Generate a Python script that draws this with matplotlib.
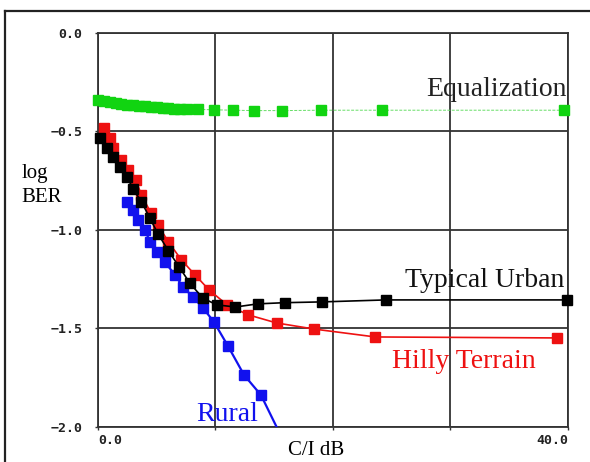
import matplotlib
matplotlib.use("Agg")
import matplotlib.pyplot as plt
from matplotlib.lines import Line2D

# C/I in dB and log BER
eq_x = [0.0, 0.5, 1.0, 1.5, 2.0, 2.5, 3.0, 3.5, 4.0, 4.5, 5.0, 5.5, 6.0, 6.5, 7.0, 7.6,
        8.5, 9.9, 11.5, 13.3, 15.7, 19.0, 24.2, 39.7]
eq_y = [-0.340, -0.346, -0.351, -0.356, -0.360, -0.364, -0.367, -0.370, -0.373, -0.376,
        -0.378, -0.380, -0.382, -0.384, -0.385, -0.386,
        -0.388, -0.390, -0.392, -0.394, -0.394, -0.392, -0.392, -0.392]

hilly_x = [0.5, 1.0, 1.3, 2.0, 2.55, 3.2, 3.7, 4.5, 5.1, 6.0, 7.1, 8.26, 9.45, 11.0,
           12.8, 15.2, 18.4, 23.6, 39.1]
hilly_y = [-0.481, -0.532, -0.583, -0.644, -0.695, -0.745, -0.822, -0.913, -0.974,
           -1.061, -1.152, -1.228, -1.304, -1.381, -1.431, -1.472, -1.503, -1.543, -1.548]

urban_x = [0.17, 0.77, 1.28, 1.87, 2.47, 2.98, 3.7, 4.4, 5.1, 6.0, 6.9, 7.8, 8.9, 10.1,
           11.7, 13.6, 15.9, 19.1, 24.5, 39.9]
urban_y = [-0.532, -0.583, -0.629, -0.680, -0.731, -0.791, -0.857, -0.938, -1.019, -1.106,
           -1.187, -1.268, -1.345, -1.380, -1.391, -1.375, -1.369, -1.365, -1.355, -1.355]

rural_x = [2.47, 2.98, 3.40, 4.0, 4.43, 5.02, 5.70, 6.55, 7.23, 8.09, 8.94, 9.87, 11.06,
           12.43, 13.87, 15.9]
rural_y = [-0.857, -0.898, -0.949, -1.0, -1.061, -1.112, -1.163, -1.228, -1.289, -1.340,
           -1.396, -1.467, -1.589, -1.736, -1.838, -2.085]

y_ticks = [0.0, -0.5, -1.0, -1.5, -2.0]
x_ticks = [0, 10, 20, 30, 40]
x_labels = ["0.0", "", "", "", "40.0"]

serif = "Liberation Serif"
mono = "DejaVu Sans Mono"

fig = plt.figure(figsize=(5.9, 4.62), dpi=100)
ax = fig.add_axes([0.1661, 0.0758, 0.7966, 0.8528])

# curves
ax.plot(eq_x, eq_y, color="#66dd66", lw=0.7, ls=(0, (3, 1.5)), marker="s", ms=7,
        mfc="#11d411", mec="#11d411", clip_on=False, zorder=3)
ax.plot(rural_x, rural_y, color="#1111ee", lw=1.6, marker="s", ms=7,
        mfc="#1111ee", mec="#1111ee", zorder=4)
ax.plot(hilly_x, hilly_y, color="#ee1111", lw=1.2, marker="s", ms=7,
        mfc="#ee1111", mec="#ee1111", clip_on=False, zorder=5)
ax.plot(urban_x, urban_y, color="black", lw=1.2, marker="s", ms=7,
        mfc="black", mec="black", clip_on=False, zorder=6)

ax.set_xlim(0, 40)
ax.set_ylim(-2.0, 0.0)
ax.set_xticks(x_ticks)
ax.set_xticklabels(x_labels)
ax.set_yticks(y_ticks)
ax.set_yticklabels([f"{v:.1f}".replace("-", "\u2212") for v in y_ticks])

ax.grid(True, color="#333333", lw=1.3)
ax.set_axisbelow(True)
for s in ax.spines.values():
    s.set_color("#333333")
    s.set_linewidth(1.3)

ax.tick_params(axis="both", length=2, width=1.0, color="#333333")
ax.tick_params(axis="y", pad=9)
ax.tick_params(axis="x", pad=3)
for lab in ax.get_yticklabels() + ax.get_xticklabels():
    lab.set_fontfamily(mono)
    lab.set_fontweight("bold")
    lab.set_fontsize(9.5)
    lab.set_color("#222222")
xl = ax.get_xticklabels()
xl[0].set_ha("left")
xl[-1].set_ha("right")

# curve labels
ax.text(39.86, -0.322, "Equalization", family=serif, fontsize=20, color="#222222",
        ha="right", va="baseline")
ax.text(39.66, -1.288, "Typical Urban", family=serif, fontsize=20, color="#111111",
        ha="right", va="baseline")
ax.text(25.0, -1.70, "Hilly Terrain", family=serif, fontsize=20, color="#ee1111",
        ha="left", va="baseline")
ax.text(8.4, -1.969, "Rural", family=serif, fontsize=20, color="#1111ee",
        ha="left", va="baseline")

# axis titles
fig.text(21.7 / 590, 1 - 178 / 462, "log", family=serif, fontsize=15, va="baseline")
fig.text(21.7 / 590, 1 - 202 / 462, "BER", family=serif, fontsize=15, va="baseline")
fig.text(288 / 590, 1 - 455 / 462, "C/I dB", family=serif, fontsize=15, va="baseline")

# outer frame (left and top edges visible)
fig.add_artist(Line2D([5 / 590, 5 / 590], [0, 1 - 11 / 462], transform=fig.transFigure,
                      color="#222222", lw=1.6))
fig.add_artist(Line2D([5 / 590, 1], [1 - 11 / 462, 1 - 11 / 462], transform=fig.transFigure,
                      color="#222222", lw=1.6))

fig.savefig("out.png", dpi=100)
